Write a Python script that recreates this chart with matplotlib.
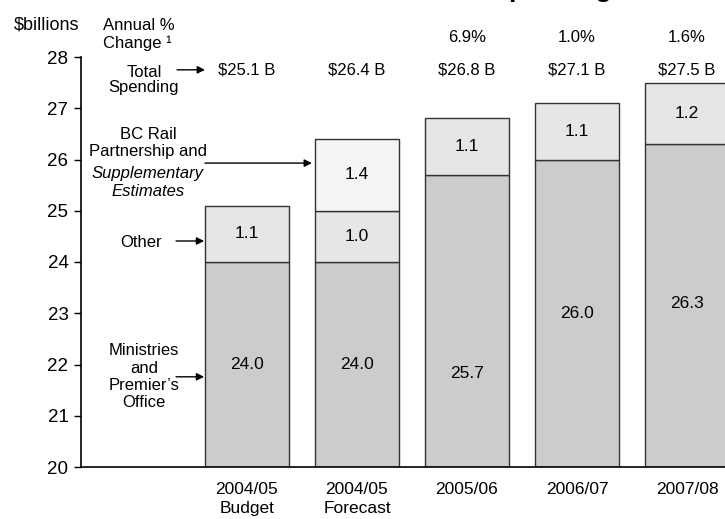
import matplotlib
matplotlib.use("Agg")
import matplotlib.pyplot as plt
import numpy as np

plt.rcParams['font.family'] = ['Liberation Sans', 'DejaVu Sans']

categories = ["2004/05\nBudget", "2004/05\nForecast", "2005/06", "2006/07", "2007/08"]
ministries = [24.0, 24.0, 25.7, 26.0, 26.3]
other = [1.1, 1.0, 1.1, 1.1, 1.2]
bc_rail = [0.0, 1.4, 0.0, 0.0, 0.0]
totals = ["$25.1 B", "$26.4 B", "$26.8 B", "$27.1 B", "$27.5 B"]
pct_change = ["", "", "6.9%", "1.0%", "1.6%"]
ministry_label_y = [22.0, 22.0, 21.83, 23.0, 23.2]

FS = 12
fig = plt.figure(figsize=(7.25, 5.19), dpi=100)
ax = fig.add_axes([81/725, 52/519, 672/725, 410/519])

x = np.arange(len(categories))
w = 0.77
ec = '#333333'
ax.bar(x, np.array(ministries) - 20, bottom=20, width=w, color='#cccccc', edgecolor=ec, linewidth=1)
ax.bar(x, other, bottom=ministries, width=w, color='#e6e6e6', edgecolor=ec, linewidth=1)
base2 = np.array(ministries) + np.array(other)
for i in range(len(x)):
    if bc_rail[i] > 0:
        ax.bar(x[i], bc_rail[i], bottom=base2[i], width=w, color='#f4f4f4', edgecolor=ec, linewidth=1)

BFS = 12.5
for i in range(len(x)):
    ax.text(x[i], ministry_label_y[i], f"{ministries[i]:.1f}", ha='center', va='center', fontsize=BFS)
    ax.text(x[i], ministries[i] + other[i] / 2, f"{other[i]:.1f}", ha='center', va='center', fontsize=BFS)
    if bc_rail[i] > 0:
        ax.text(x[i], base2[i] + bc_rail[i] / 2, f"{bc_rail[i]:.1f}", ha='center', va='center', fontsize=BFS)
    ax.text(x[i], 27.75, totals[i], ha='center', va='center', fontsize=FS)
    if pct_change[i]:
        ax.text(x[i], 28.39, pct_change[i], ha='center', va='center', fontsize=FS)

ax.set_xlim(-1.509, 4.6)
ax.set_ylim(20, 28)
ax.set_yticks(range(20, 29))
ax.set_xticks(x)
ax.set_xticklabels(categories, fontsize=12.5, linespacing=1.3)
ax.tick_params(axis='x', length=0, pad=11)
ax.tick_params(axis='y', length=5, width=1, labelsize=13.5, pad=4)
for s in ['top', 'right']:
    ax.spines[s].set_visible(False)
ax.spines['left'].set_linewidth(1.2)
ax.spines['bottom'].set_linewidth(1.2)

ap = dict(arrowstyle='-|>', color='black', lw=1, mutation_scale=11, shrinkA=0, shrinkB=0)

ax.text(-1.82, 28.62, "$billions", ha='center', va='center', fontsize=13)
ax.text(-1.31, 28.43, "Annual %\nChange \u00b9", ha='left', va='center', fontsize=FS, linespacing=1.2)
ax.annotate("", xy=(-0.382, 28.62), xytext=(-0.645, 28.62), arrowprops=ap)

ax.text(-0.936, 27.55, "Total\nSpending", ha='center', va='center', fontsize=FS, linespacing=0.95)
ax.annotate("", xy=(-0.382, 27.75), xytext=(-0.636, 27.75), arrowprops=ap)

ax.text(-0.9, 26.32, "BC Rail\nPartnership and", ha='center', va='center', fontsize=FS, linespacing=1.2)
ax.text(-0.9, 25.55, "Supplementary\nEstimates", ha='center', va='center', fontsize=FS,
        style='italic', linespacing=1.2)
ax.annotate("", xy=(0.59, 25.93), xytext=(-0.382, 25.93), arrowprops=ap)

ax.text(-0.964, 24.39, "Other", ha='center', va='center', fontsize=FS)
ax.annotate("", xy=(-0.39, 24.41), xytext=(-0.645, 24.41), arrowprops=ap)

ax.text(-0.936, 21.76, "Ministries\nand\nPremier\u2019s\nOffice", ha='center', va='center',
        fontsize=FS, linespacing=1.2)
ax.annotate("", xy=(-0.39, 21.76), xytext=(-0.645, 21.76), arrowprops=ap)

fig.text(423/725, 1 + 2.5/519, "Total Spending", ha='left', va='baseline',
         fontsize=19, fontweight='bold')

fig.savefig("out.png", dpi=100)
